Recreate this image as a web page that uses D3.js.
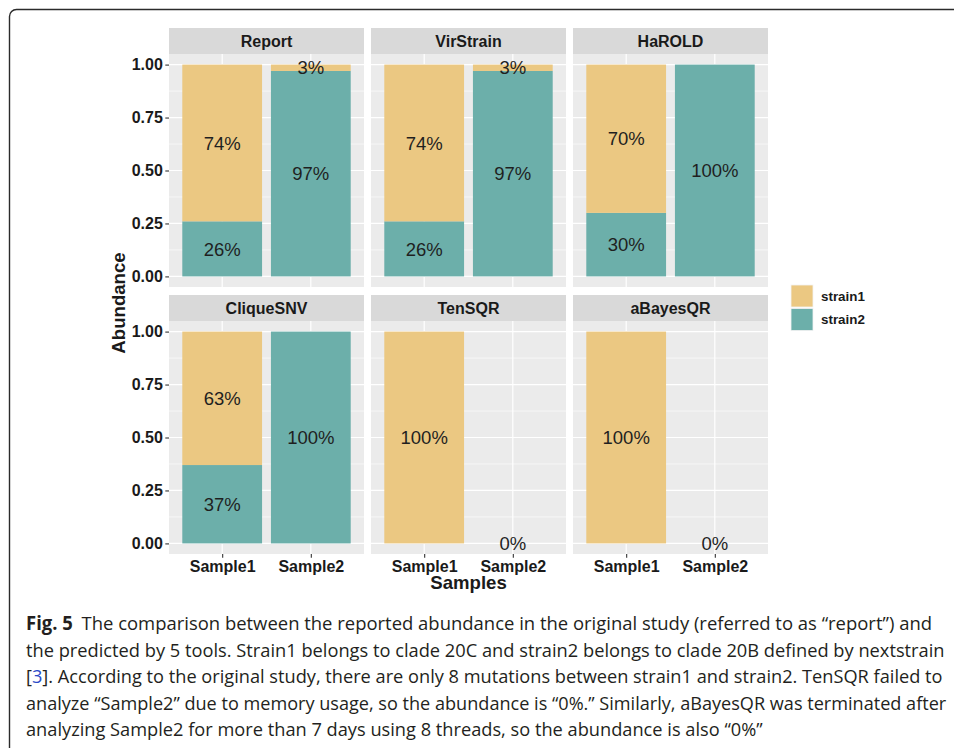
<!DOCTYPE html>
<html>
<head>
<meta charset="utf-8">
<script src="https://cdn.jsdelivr.net/npm/d3@7"></script>
<style>
  html, body { margin: 0; padding: 0; background: #fff; }
  svg { display: block; }
</style>
</head>
<body>
<svg id="fig" width="954" height="748"></svg>
<script>
// ---- data ----
const tools = ["Report", "VirStrain", "HaROLD", "CliqueSNV", "TenSQR", "aBayesQR"];
const samples = ["Sample1", "Sample2"];
const strains = ["strain1", "strain2"];
// abundance per tool for [Sample1, Sample2]; null = no record
const strain1Values = [[0.74, 0.03], [0.74, 0.03], [0.70, null], [0.63, null], [1.00, 0], [1.00, 0]];
const strain2Values = [[0.26, 0.97], [0.26, 0.97], [0.30, 1.00], [0.37, 1.00], [null, null], [null, null]];
const yTicks = [0, 0.25, 0.5, 0.75, 1];
const yMinor = [0.125, 0.375, 0.625, 0.875];
const strainColors = ["#EBC882", "#6CAFAA"];
const captionLines = [
  [{t: "Fig. 5", b: true}, {t: "The comparison between the reported abundance in the original study (referred to as \u201Creport\u201D) and", dx: 9}],
  [{t: "the predicted by 5 tools. Strain1 belongs to clade 20C and strain2 belongs to clade 20B defined by nextstrain"}],
  [{t: "["}, {t: "3", link: true}, {t: "]. According to the original study, there are only 8 mutations between strain1 and strain2. TenSQR failed to"}],
  [{t: "analyze \u201CSample2\u201D due to memory usage, so the abundance is \u201C0%.\u201D Similarly, aBayesQR was terminated after"}],
  [{t: "analyzing Sample2 for more than 7 days using 8 threads, so the abundance is also \u201C0%\u201D"}]
];
const captionEnds = [924, 945, 943, 947, 763];

// ---- layout ----
const svg = d3.select("#fig");
const sans = "'Liberation Sans', Arial, sans-serif";
const colLeft = [169, 371, 573];
const rowTop = [28, 295];
const panelW = 195, stripH = 26, panelH = 233;

// figure frame
svg.append("rect")
  .attr("x", 9.5).attr("y", 9.5).attr("width", 1000).attr("height", 800)
  .attr("rx", 7).attr("fill", "none").attr("stroke", "#2b2b2b").attr("stroke-width", 1.4);

// rows of stacked records
const records = [];
tools.forEach((tool, ti) => {
  samples.forEach((s, si) => {
    let base = 0;
    // strain2 sits at the bottom, strain1 stacked above
    [[1, strain2Values], [0, strain1Values]].forEach(([k, arr]) => {
      const v = arr[ti][si];
      if (v === null) return;
      records.push({tool, ti, sample: s, strain: strains[k], k, v, y0: base, y1: base + v});
      base += v;
    });
  });
});

tools.forEach((tool, ti) => {
  const col = ti % 3, row = Math.floor(ti / 3);
  const x0 = colLeft[col], top = rowTop[row];
  const pTop = top + stripH, pBot = pTop + panelH;
  const g = svg.append("g");

  const x = d3.scalePoint().domain(samples).range([x0, x0 + panelW]).padding(0.6);
  const y = d3.scaleLinear().domain([-0.05, 1.05]).range([pBot, pTop]);
  const bw = x.step() * 0.9;

  // strip
  g.append("rect").attr("x", x0).attr("y", top).attr("width", panelW).attr("height", stripH).attr("fill", "#D9D9D9");
  g.append("text").attr("x", x0 + panelW / 2).attr("y", top + stripH / 2).attr("dy", "0.36em")
    .attr("text-anchor", "middle").attr("font-family", sans).attr("font-weight", "bold")
    .attr("font-size", 16).attr("fill", "#1a1a1a").text(tool);

  // panel background + grid
  g.append("rect").attr("x", x0).attr("y", pTop).attr("width", panelW).attr("height", panelH).attr("fill", "#EBEBEB");
  g.selectAll(".minor").data(yMinor).join("line")
    .attr("x1", x0).attr("x2", x0 + panelW).attr("y1", d => y(d)).attr("y2", d => y(d))
    .attr("stroke", "#fff").attr("stroke-width", 0.6);
  g.selectAll(".major").data(yTicks).join("line")
    .attr("x1", x0).attr("x2", x0 + panelW).attr("y1", d => y(d)).attr("y2", d => y(d))
    .attr("stroke", "#fff").attr("stroke-width", 1.2);
  g.selectAll(".vmajor").data(samples).join("line")
    .attr("x1", d => x(d)).attr("x2", d => x(d)).attr("y1", pTop).attr("y2", pBot)
    .attr("stroke", "#fff").attr("stroke-width", 1.2);

  // bars
  const recs = records.filter(r => r.ti === ti);
  g.selectAll(".bar").data(recs.filter(r => r.v > 0)).join("rect")
    .attr("x", d => x(d.sample) - bw / 2).attr("width", bw)
    .attr("y", d => y(d.y1)).attr("height", d => y(d.y0) - y(d.y1))
    .attr("fill", d => strainColors[d.k]);

  // value labels at the middle of each stacked segment
  g.selectAll(".lab").data(recs).join("text")
    .attr("x", d => x(d.sample)).attr("y", d => y((d.y0 + d.y1) / 2)).attr("dy", "0.36em")
    .attr("text-anchor", "middle").attr("font-family", sans).attr("font-size", 18.5)
    .attr("fill", "#1f1f1f").text(d => Math.round(d.v * 100) + "%");

  // y axis on the left column
  if (col === 0) {
    const ax = g.append("g").attr("transform", `translate(${x0},0)`)
      .call(d3.axisLeft(y).tickValues(yTicks).tickFormat(d3.format(".2f")).tickSize(3.7).tickPadding(2.5));
    ax.select(".domain").remove();
    ax.selectAll(".tick line").attr("stroke", "#333").attr("stroke-width", 1.1);
    ax.selectAll(".tick text").attr("font-family", sans).attr("font-weight", "bold")
      .attr("font-size", 16).attr("fill", "#1a1a1a");
  }
  // x axis on the bottom row
  if (row === 1) {
    const ax = g.append("g").attr("transform", `translate(0,${pBot})`)
      .call(d3.axisBottom(x).tickSize(3.7).tickPadding(3));
    ax.select(".domain").remove();
    ax.selectAll(".tick line").attr("stroke", "#333").attr("stroke-width", 1.1);
    ax.selectAll(".tick text").attr("font-family", sans).attr("font-weight", "bold")
      .attr("font-size", 16).attr("fill", "#1a1a1a");
  }
});

// axis titles
svg.append("text").attr("x", colLeft[0] + (colLeft[2] + panelW - colLeft[0]) / 2).attr("y", 589)
  .attr("text-anchor", "middle").attr("font-family", sans).attr("font-weight", "bold")
  .attr("font-size", 18.6).attr("fill", "#1a1a1a").text("Samples");
svg.append("text").attr("transform", "translate(125,303) rotate(-90)")
  .attr("text-anchor", "middle").attr("font-family", sans).attr("font-weight", "bold")
  .attr("font-size", 18.6).attr("fill", "#1a1a1a").text("Abundance");

// legend
const leg = svg.append("g").attr("transform", "translate(791,285)");
strains.forEach((s, i) => {
  leg.append("rect").attr("x", 0).attr("y", i * 23.5).attr("width", 22).attr("height", 22)
    .attr("fill", strainColors[i]).attr("stroke", "#f2f2f2").attr("stroke-width", 0.8);
  leg.append("text").attr("x", 30).attr("y", i * 23.5 + 11).attr("dy", "0.36em")
    .attr("font-family", sans).attr("font-weight", "bold").attr("font-size", 13.4)
    .attr("fill", "#1a1a1a").text(s);
});

// caption
const capFont = "'Open Sans', 'Noto Sans', sans-serif";
captionLines.forEach((parts, i) => {
  const g = svg.append("g");
  const t = g.append("text").attr("font-family", capFont).attr("font-size", 19).attr("fill", "#231f20");
  parts.forEach(p => {
    t.append("tspan").attr("dx", p.dx || 0)
      .attr("font-weight", p.b ? "bold" : null)
      .attr("fill", p.link ? "#2a49c8" : null)
      .text(p.t);
  });
  const natural = t.node().getComputedTextLength();
  const sx = (captionEnds[i] - 26) / natural;
  g.attr("transform", `translate(26,${630 + i * 26.5}) scale(${sx},1)`);
});
</script>
</body>
</html>
